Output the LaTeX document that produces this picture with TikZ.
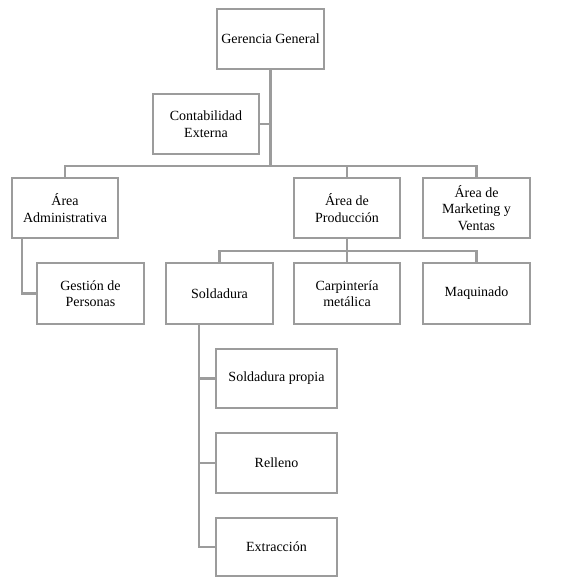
\documentclass[tikz,border=0pt]{standalone}
\usepackage{fontspec}
\setmainfont{Liberation Serif}
\definecolor{linegray}{HTML}{9C9C9C}
\begin{document}
\begin{tikzpicture}[x=1pt,y=-1pt,
  box/.style={draw=linegray, line width=2.4pt, fill=white, inner sep=0pt, align=center,
    font=\fontsize{14}{16.5}\selectfont, minimum width=106pt, minimum height=60pt},
  conn/.style={draw=linegray, line width=2.4pt}]
\useasboundingbox (0,0) rectangle (588,576);
% top
\node[box, minimum width=107pt] (gg) at (270.5,39) {Gerencia General};
\node[box] (ce) at (206,124) {Contabilidad\\Externa};
% level 2
\node[box] (aa) at (65,208) {Área\\Administrativa};
\node[box] (ap) at (347,208) {Área de\\Producción};
\node[box, minimum width=107pt] (am) at (476.5,208) {Área de\\Marketing y\\Ventas};
% level 3
\node[box, minimum width=107pt, minimum height=61pt] (gp) at (90.5,293.5) {Gestión de\\Personas};
\node[box, minimum width=107pt, minimum height=61pt] (so) at (219.5,293.5) {Soldadura};
\node[box, minimum height=61pt] (cm) at (347,293.5) {Carpintería\\metálica};
\node[box, minimum width=107pt, minimum height=61pt] (mq) at (476.5,293.5) {Maquinado};
% level 4
\node[box, minimum width=121pt, minimum height=59pt] (sp) at (276.5,378.5) {Soldadura propia};
\node[box, minimum width=121pt, minimum height=60pt] (re) at (276.5,463) {Relleno};
\node[box, minimum width=121pt, minimum height=58pt] (ex) at (276.5,547) {Extracción};
% connectors
\coordinate (b1) at (270.5,166);
\coordinate (b2) at (347,251);
\coordinate (aL) at ([xshift=-43pt]aa.south);
\coordinate (sL) at ([xshift=-20.5pt]so.south);
\path[conn] (gg.south) -- (b1);
\path[conn] (ce.east) -- (ce.east -| gg.south);
\path[conn] (aa.north) |- (b1) -| (am.north);
\path[conn] (ap.north) -- (ap.north |- b1);
\path[conn] (ap.south) -- (b2);
\path[conn] (so.north) |- (b2) -| (mq.north);
\path[conn] (cm.north) -- (b2);
\path[conn] (aL) |- (gp.west);
\path[conn] (sL) |- (ex.west);
\path[conn] (sp.west) -- (sp.west -| sL);
\path[conn] (re.west) -- (re.west -| sL);
\end{tikzpicture}
\end{document}
